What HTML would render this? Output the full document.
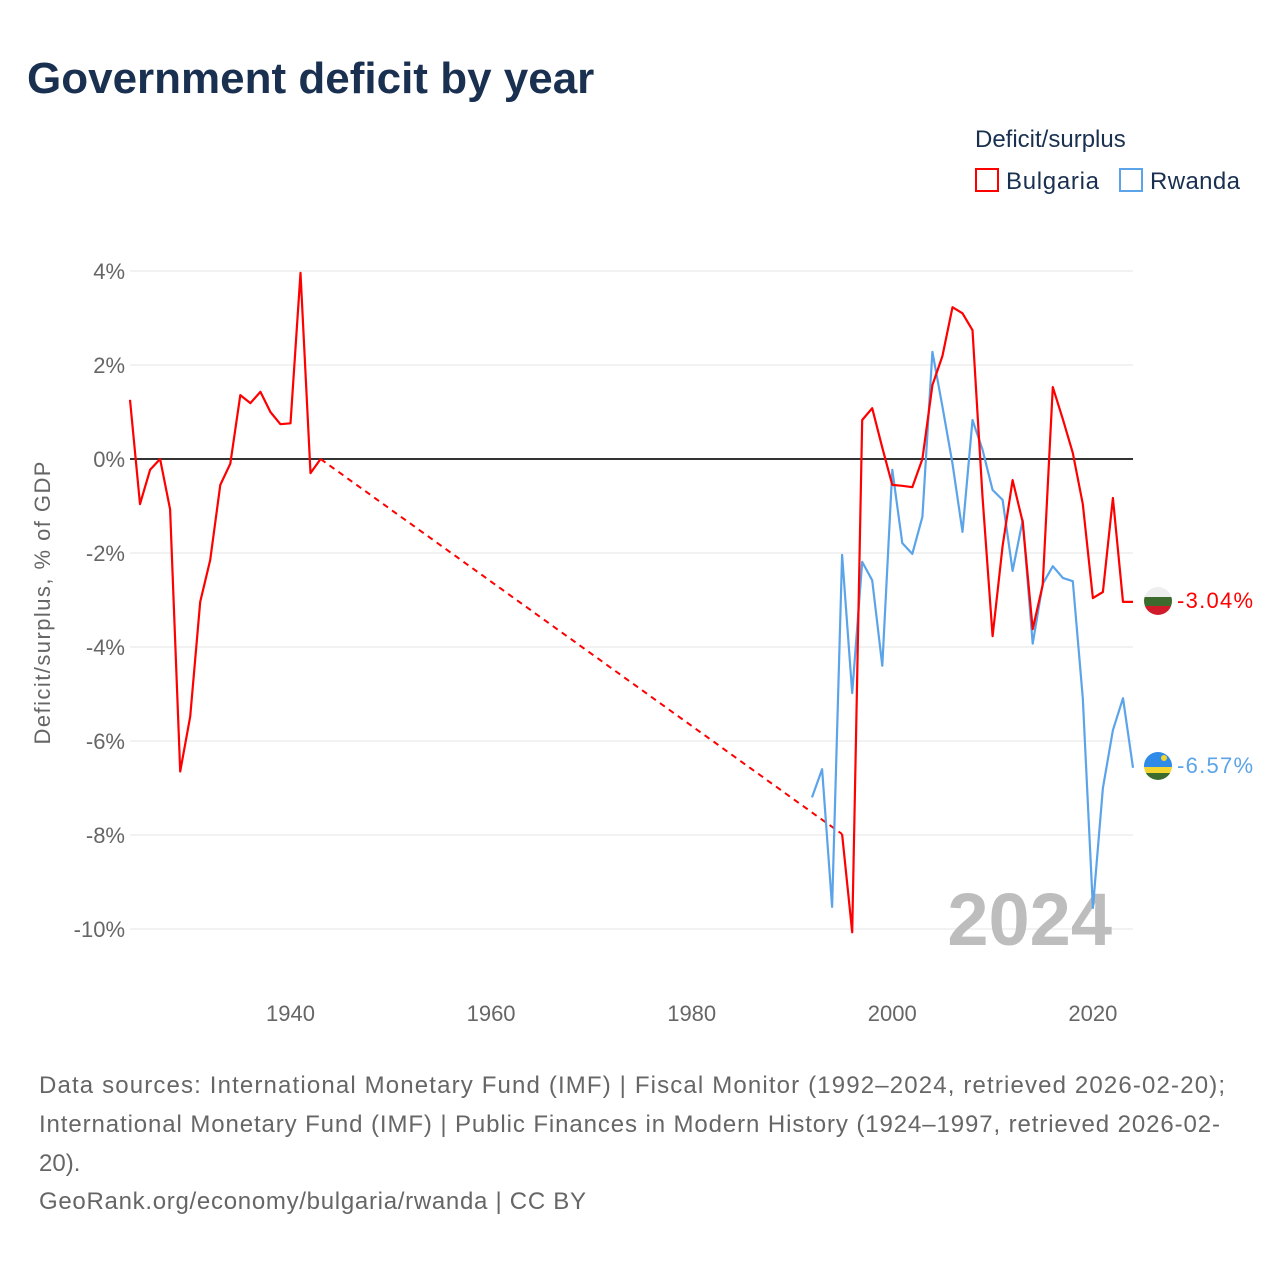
<!DOCTYPE html>
<html><head><meta charset="utf-8"><style>
body{margin:0;background:#fff;font-family:"Liberation Sans",sans-serif;}
#wrap{position:relative;width:1280px;height:1280px;overflow:hidden;}
</style></head><body>
<div id="wrap">
<svg id="chart" width="1280" height="1280" xmlns="http://www.w3.org/2000/svg">
<text x="27" y="93" font-size="44" font-weight="bold" fill="#1a3050">Government deficit by year</text>
<text x="975" y="147" font-size="24" fill="#1a3050">Deficit/surplus</text>
<g><rect x="976" y="169" width="22" height="22" fill="none" stroke="#ff0000" stroke-width="2"/><text x="1006" y="189" font-size="24" fill="#1a3050" textLength="93">Bulgaria</text></g>
<g><rect x="1120" y="169" width="22" height="22" fill="none" stroke="#5ba4ea" stroke-width="2"/><text x="1150" y="189" font-size="24" fill="#1a3050" textLength="90">Rwanda</text></g>
<text transform="translate(50,603) rotate(-90)" text-anchor="middle" font-size="22" fill="#666" textLength="283">Deficit/surplus, % of GDP</text>
<g id="grid"></g>
<text x="1112" y="945" text-anchor="end" font-size="74" font-weight="bold" fill="#bdbdbd">2024</text>
<g id="series"></g>
<g>
<clipPath id="cb"><circle cx="1158" cy="601" r="14"/></clipPath>
<g clip-path="url(#cb)"><rect x="1144" y="587" width="28" height="10" fill="#eee"/><rect x="1144" y="597" width="28" height="9" fill="#3d6b2e"/><rect x="1144" y="606" width="28" height="10" fill="#d01c2a"/></g></g>
<text x="1177" y="608" font-size="22" fill="#ff0000" textLength="76">-3.04%</text>
<g>
<clipPath id="cr"><circle cx="1158" cy="766" r="14"/></clipPath>
<g clip-path="url(#cr)"><rect x="1144" y="752" width="28" height="15" fill="#2f8ae8"/><rect x="1144" y="767" width="28" height="6" fill="#f2d530"/><rect x="1144" y="773" width="28" height="9" fill="#3d6b2e"/><circle cx="1164" cy="758" r="3" fill="#f2d530"/></g></g>
<text x="1177" y="773" font-size="22" fill="#5ba4ea" textLength="76">-6.57%</text>
<text x="39" y="1093" font-size="24" fill="#666" textLength="1186">Data sources: International Monetary Fund (IMF) | Fiscal Monitor (1992–2024, retrieved 2026-02-20);</text>
<text x="39" y="1132" font-size="24" fill="#666" textLength="1181">International Monetary Fund (IMF) | Public Finances in Modern History (1924–1997, retrieved 2026-02-</text>
<text x="39" y="1171" font-size="24" fill="#666">20).</text>
<text x="39" y="1209" font-size="24" fill="#666" textLength="547">GeoRank.org/economy/bulgaria/rwanda | CC BY</text>
</svg>
</div>
<script>
const yTicks=[4,2,0,-2,-4,-6,-8,-10];
const xTicks=[1940,1960,1980,2000,2020];
const bgYearsA=[1924,1925,1926,1927,1928,1929,1930,1931,1932,1933,1934,1935,1936,1937,1938,1939,1940,1941,1942,1943];
const bgValuesA=[1.26,-0.96,-0.23,0,-1.07,-6.65,-5.48,-3.04,-2.15,-0.55,-0.1,1.36,1.19,1.43,1.0,0.74,0.76,3.96,-0.3,0];
const bgYearsB=[1995,1996,1997,1998,1999,2000,2001,2002,2003,2004,2005,2006,2007,2008,2009,2010,2011,2012,2013,2014,2015,2016,2017,2018,2019,2020,2021,2022,2023,2024];
const bgValuesB=[-7.98,-10.07,0.83,1.08,0.24,-0.55,-0.57,-0.6,0,1.57,2.19,3.23,3.1,2.74,-0.8,-3.77,-1.85,-0.45,-1.34,-3.62,-2.68,1.53,0.85,0.13,-0.96,-2.96,-2.83,-0.83,-3.04,-3.04];
const rwYears=[1992,1993,1994,1995,1996,1997,1998,1999,2000,2001,2002,2003,2004,2005,2006,2007,2008,2009,2010,2011,2012,2013,2014,2015,2016,2017,2018,2019,2020,2021,2022,2023,2024];
const rwValues=[-7.2,-6.6,-9.53,-2.04,-4.98,-2.19,-2.58,-4.4,-0.23,-1.79,-2.02,-1.23,2.28,1.12,-0.1,-1.55,0.83,0.2,-0.66,-0.87,-2.38,-1.3,-3.93,-2.66,-2.28,-2.53,-2.6,-5.09,-9.55,-7.0,-5.77,-5.09,-6.57];
const NS='http://www.w3.org/2000/svg';
const X=y=>130+(y-1924)*10.03;
const Y=v=>459-v*47;
function mk(tag,attrs,parent){const e=document.createElementNS(NS,tag);for(const k in attrs)e.setAttribute(k,attrs[k]);parent.appendChild(e);return e;}
const grid=document.getElementById('grid'),ser=document.getElementById('series');
yTicks.forEach(t=>{
  const l=mk('line',{x1:130,x2:1133,y1:Y(t),y2:Y(t),stroke:t===0?'#333':'#e6e6e6','stroke-width':t===0?2:1},grid);
  
  
  const tx=mk('text',{x:125,y:Y(t)+8,'text-anchor':'end','font-size':22,fill:'#666'},grid);
  tx.textContent=t+'%';
  
  
});
xTicks.forEach(t=>{
  const tx=mk('text',{x:X(t),y:1021,'text-anchor':'middle','font-size':22,fill:'#666'},grid);
  tx.textContent=t;
  
  
});
function pts(ys,vs){return ys.map((y,i)=>X(y).toFixed(1)+','+Y(vs[i]).toFixed(1)).join(' ');}
const a=mk('polyline',{points:pts(bgYearsA,bgValuesA),fill:'none',stroke:'#ff0000','stroke-width':2.2,'stroke-linejoin':'round'},ser);


const gapY=[bgYearsA[bgYearsA.length-1],bgYearsB[0]],gapV=[bgValuesA[bgValuesA.length-1],bgValuesB[0]];
const d=mk('polyline',{points:pts(gapY,gapV),fill:'none',stroke:'#ff0000','stroke-width':2,'stroke-dasharray':'6,5'},ser);


const r=mk('polyline',{points:pts(rwYears,rwValues),fill:'none',stroke:'#5ba4ea','stroke-width':2.2,'stroke-linejoin':'round'},ser);


const b=mk('polyline',{points:pts(bgYearsB,bgValuesB),fill:'none',stroke:'#ff0000','stroke-width':2.2,'stroke-linejoin':'round'},ser);


</script>
</body></html>
